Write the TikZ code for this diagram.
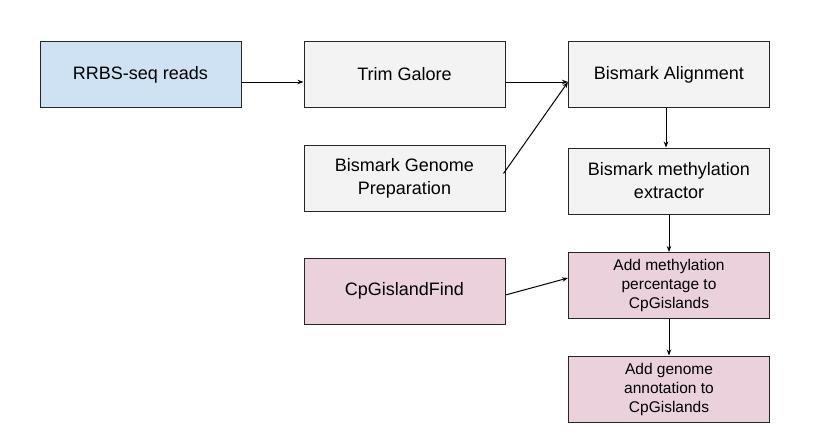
\documentclass[tikz,border=0pt]{standalone}
\usepackage{fontspec}
\setmainfont{Liberation Sans}
\usetikzlibrary{arrows.meta}
\definecolor{readblue}{HTML}{CFE2F3}
\definecolor{stepgrey}{HTML}{F3F3F3}
\definecolor{islandpink}{HTML}{EAD1DC}

\begin{document}
\begin{tikzpicture}[x=1pt,y=-1pt,line width=1pt,>={Stealth[length=6pt,width=4.5pt]},
  box/.style={draw=black!85,minimum width=201pt,minimum height=66pt,inner sep=0pt,
    align=center,font=\fontsize{18}{23}\selectfont},
  small/.style={font=\fontsize{15.5}{19}\selectfont}]
\useasboundingbox (0,0) rectangle (839,439);

% left and middle column
\node[box,fill=readblue] (reads) at (140.5,74.5) {RRBS-seq reads};
\node[box,fill=stepgrey] (trim) at (404.5,74.5) {Trim Galore};
\node[box,fill=stepgrey] (genome) at (404.5,178.5) {Bismark Genome\\Preparation};
\node[box,fill=islandpink] (cpgfind) at (404.5,291) {CpGislandFind};

% right column
\node[box,fill=stepgrey] (align) at (669,74.5) {Bismark Alignment};
\node[box,fill=stepgrey] (extract) at (669,181) {Bismark methylation\\extractor};
\node[box,small,fill=islandpink] (addmeth) at (669,285.5) {Add methylation\\percentage to\\CpGislands};
\node[box,small,fill=islandpink] (addanno) at (669,389) {Add genome\\annotation to\\CpGislands};

\draw[->] ([yshift=-7.5pt]reads.east) -- ([yshift=-7.5pt]trim.west);
\draw[->] ([yshift=-7.5pt]trim.east) -- ([yshift=-7.5pt]align.west);
\draw[->] ([xshift=-2pt,yshift=5pt]genome.east) -- ([yshift=-7.5pt]align.west);
\draw[->] ([xshift=-3pt]align.south) -- ([xshift=-3pt]extract.north);
\draw[->] (extract.south) -- (addmeth.north);
\draw[->] ([yshift=-4pt]cpgfind.east) -- ([yshift=7.5pt]addmeth.west);
\draw[->] (addmeth.south) -- (addanno.north);
\end{tikzpicture}
\end{document}
